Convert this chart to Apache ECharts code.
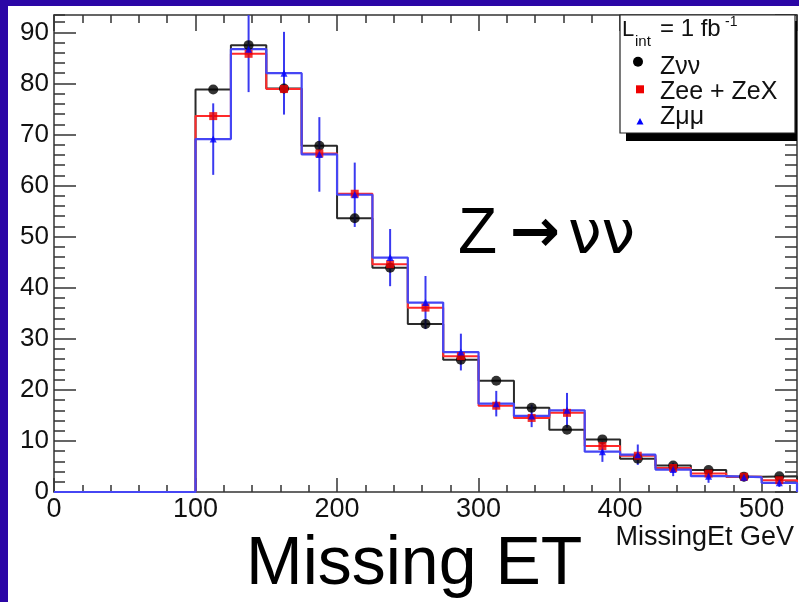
<!DOCTYPE html>
<html><head><meta charset="utf-8">
<script src="https://cdn.jsdelivr.net/npm/echarts@6/dist/echarts.min.js"></script>
<style>
html,body{margin:0;padding:0;background:#2b06a6;width:799px;height:602px;overflow:hidden}
#c{position:absolute;left:8px;top:6px;width:791px;height:596px;background:#fff}
</style></head><body><div id="c"></div>
<script>
// bin edges (GeV)
const binEdges = [100,125,150,175,200,225,250,275,300,325,350,375,400,425,450,475,500,525];
// Z->nunu (black)
const zvv = [78.8,87.5,79.0,67.8,53.6,43.9,32.9,25.9,21.8,16.5,12.2,10.3,6.5,5.2,4.3,3.0,3.1];
// Zee + ZeX (red)
const zee = [73.6,85.8,78.9,66.3,58.4,44.6,36.1,26.6,16.9,14.5,15.5,9.0,7.1,4.7,3.6,3.0,2.3];
// Zmumu (blue)
const zmm = [69.1,86.7,82.0,66.1,58.2,45.9,37.1,27.4,17.3,14.9,16.0,7.9,7.3,4.4,3.1,2.9,1.8];
const zmmErr = [7.0,8.4,8.1,7.3,6.3,5.6,5.2,3.6,2.5,2.2,3.4,2.0,2.0,1.3,1.3,0.8,0.8];

const FONT = '"Liberation Sans", Arial, Helvetica, sans-serif';
const AX = '#333';

function stepData(vals, start) {
  const d = [start];
  vals.forEach((v, i) => d.push([binEdges[i], v]));
  const last = binEdges[binEdges.length - 1];
  d.push([last, vals[vals.length - 1]]);
  d.push([last, 0]);
  return d;
}
function centers(vals) {
  return vals.map((v, i) => [(binEdges[i] + binEdges[i + 1]) / 2, v]);
}
function errData(vals, errs) {
  return vals.map((v, i) => [(binEdges[i] + binEdges[i + 1]) / 2, v - errs[i], v + errs[i]]);
}

function xa(pos, interval, len, labels, line) {
  return {
    type: 'value', position: pos, min: 0, max: 525, interval: interval,
    axisLine: { show: line, onZero: false, lineStyle: { color: AX, width: 1.5 } },
    axisTick: { show: true, inside: true, length: len, lineStyle: { color: AX, width: 1.5 } },
    axisLabel: labels ? { show: true, fontSize: 27, margin: 4, color: '#111', fontFamily: FONT,
      showMaxLabel: false, formatter: v => (v % 100 === 0 ? String(v) : '') } : { show: false },
    splitLine: { show: false }
  };
}
function ya(pos, interval, len, labels, line) {
  return {
    type: 'value', position: pos, min: 0, max: 93.4, interval: interval,
    axisLine: { show: line, onZero: false, lineStyle: { color: AX, width: 1.5 } },
    axisTick: { show: true, inside: true, length: len, lineStyle: { color: AX, width: 1.5 } },
    axisLabel: labels ? { show: true, fontSize: 26, margin: 5, color: '#111', fontFamily: FONT,
      showMaxLabel: false, formatter: v => (v % 10 === 0 ? String(v) : '') } : { show: false },
    splitLine: { show: false }
  };
}

const T = (x, y, text, size, extra) => Object.assign({ type: 'text', z: 102, x: x, y: y,
  style: Object.assign({ text: text, fontSize: size, fontFamily: FONT, fontStyle: 'normal', fill: '#111',
    align: 'left', verticalAlign: 'middle', textAlign: 'left', textVerticalAlign: 'middle' }, extra || {}) });

const chart = echarts.init(document.getElementById('c'), null, { renderer: 'canvas' });
chart.setOption({
  animation: false,
  backgroundColor: '#fff',
  grid: { left: 46, top: 9, right: 2, bottom: 110, containLabel: false },
  xAxis: [
    xa('bottom', 100, 14, true, true),
    xa('bottom', 20, 7, false, false),
    xa('top', 100, 16, false, true),
    xa('top', 20, 8, false, false)
  ],
  yAxis: [
    ya('left', 10, 22, true, true),
    ya('left', 2, 11, false, false),
    ya('right', 10, 22, false, true),
    ya('right', 2, 12, false, false)
  ],
  series: [
    { type: 'line', step: 'end', data: stepData(zvv, [100, 0]), symbol: 'none', z: 2,
      lineStyle: { color: '#2a2a2a', width: 2 } },
    { type: 'line', step: 'end', data: stepData(zee, [100, 0]), symbol: 'none', z: 3,
      lineStyle: { color: '#ff2a2a', width: 2 } },
    { type: 'line', step: 'end', data: stepData(zmm, [0, 0]), symbol: 'none', z: 4,
      lineStyle: { color: '#4646f4', width: 2.2 } },
    { type: 'custom', clip: true, z: 5, data: errData(zmm, zmmErr), encode: { x: 0, y: [1, 2] },
      renderItem: (p, api) => {
        const a = api.coord([api.value(0), api.value(1)]);
        const b = api.coord([api.value(0), api.value(2)]);
        return { type: 'line', shape: { x1: a[0], y1: a[1], x2: b[0], y2: b[1] },
          style: { stroke: '#3a3af0', lineWidth: 2 } };
      } },
    { type: 'scatter', data: centers(zvv), symbol: 'circle', symbolSize: 10, z: 6,
      itemStyle: { color: '#000' } },
    { type: 'scatter', data: centers(zee), symbol: 'rect', symbolSize: 8, z: 7,
      itemStyle: { color: '#ee0000' } },
    { type: 'scatter', data: centers(zmm), symbol: 'triangle', symbolSize: 7, z: 8,
      itemStyle: { color: '#0000ff' } }
  ],
  graphic: [
    { type: 'rect', z: 100, shape: { x: 618, y: 15, width: 171, height: 120 }, style: { fill: '#000' } },
    { type: 'rect', z: 101, shape: { x: 612, y: 9, width: 175, height: 118 },
      style: { fill: '#fff', stroke: '#222', lineWidth: 1.2 } },
    T(614, 23.5, 'L', 22),
    T(627, 36, 'int', 15),
    T(652, 23.5, '= 1 fb', 24),
    T(717, 16, '-1', 14),
    { type: 'circle', z: 102, shape: { cx: 630, cy: 55.7, r: 5 }, style: { fill: '#000' } },
    { type: 'rect', z: 102, shape: { x: 628, y: 79.3, width: 8, height: 8 }, style: { fill: '#ee0000' } },
    { type: 'polygon', z: 102, shape: { points: [[632, 112], [628.5, 118.5], [635.5, 118.5]] }, style: { fill: '#0000ff' } },
    T(652, 61.5, 'Zνν', 25),
    T(652, 85.7, 'Zee + ZeX', 25),
    T(652, 111.5, 'Zμμ', 25),
    T(450, 229, 'Z', 64, { fill: '#000' }),
    T(502, 229, '→', 60, { fill: '#000', fontFamily: '"DejaVu Sans", sans-serif', fontWeight: 'bold' }),
    T(560, 231, 'νν', 60, { fill: '#000', fontFamily: '"DejaVu Sans", sans-serif' }),
    T(786, 532, 'MissingEt GeV', 27, { align: 'right', textAlign: 'right' }),
    T(238, 559, 'Missing ET', 68, { fill: '#000' })
  ]
});
</script></body></html>
